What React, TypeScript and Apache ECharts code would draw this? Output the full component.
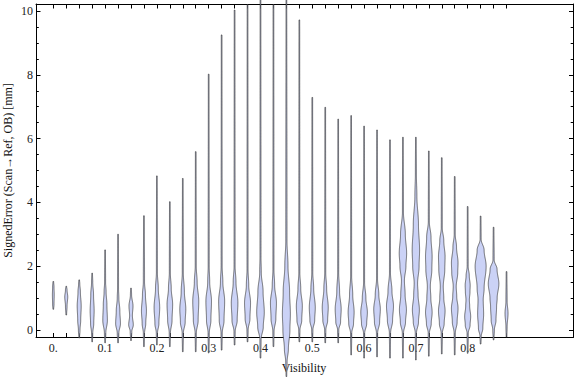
import React, { useEffect, useRef } from 'react';
import * as echarts from 'echarts';

// Violin positions (Visibility)
const positions = [
  0, 0.025, 0.05, 0.075, 0.1, 0.125, 0.15, 0.175, 0.2, 0.225, 0.25, 0.275,
  0.3, 0.325, 0.35, 0.375, 0.4, 0.425, 0.45, 0.475, 0.5, 0.525, 0.55, 0.575,
  0.6, 0.625, 0.65, 0.675, 0.7, 0.725, 0.75, 0.775, 0.8, 0.825, 0.85, 0.875,
];

// Tail ends (min / max of the signed error per bin)
const minValues = [
  0.65, 0.47, -0.25, -0.37, -0.4, -0.4, -0.33, -0.52, -0.47, -0.52, -0.68, -0.68,
  -0.72, -0.63, -0.47, -0.37, -0.88, -0.52, -1.46, -0.37, -0.37, -0.4, -0.4, -0.78,
  -0.88, -0.84, -0.88, -0.88, -0.94, -0.82, -0.75, -0.78, -0.73, -0.44, -0.31, -0.22,
];
const maxValues = [
  1.52, 1.37, 1.57, 1.78, 2.51, 3.0, 1.31, 3.58, 4.83, 4.02, 4.75, 5.59,
  8.02, 9.25, 10.03, 10.2, 11, 10.2, 11, 9.72, 7.29, 6.98, 6.61, 6.72,
  6.39, 6.27, 5.96, 6.04, 6.04, 5.61, 5.4, 4.81, 3.87, 3.57, 3.22, 1.83,
];

// Density profile knots per violin: [value, density]
const densityProfiles: number[][][] = [
  [[0.8, 0.7], [1.1, 0.9], [1.35, 0.7]],
  [[0.75, 0.8], [1.04, 1.5], [1.25, 0.8]],
  [[0.0, 0.8], [0.3, 1.5], [0.75, 2.0], [1.2, 1.2], [1.45, 0.6]],
  [[-0.1, 0.6], [0.2, 1.6], [0.6, 2.0], [1.1, 1.4], [1.5, 0.6]],
  [[-0.1, 0.7], [0.3, 2.3], [0.8, 1.8], [1.2, 1.0], [1.5, 0.5]],
  [[-0.1, 0.8], [0.2, 2.4], [0.6, 1.8], [1.0, 0.8], [1.3, 0.5]],
  [[-0.05, 0.8], [0.16, 2.3], [0.45, 1.4], [0.75, 2.0], [1.1, 0.6]],
  [[-0.1, 0.6], [0.2, 1.8], [0.6, 2.5], [1.1, 1.5], [1.5, 0.6]],
  [[-0.1, 0.6], [0.2, 2.0], [0.7, 2.8], [1.3, 1.4], [1.8, 0.5]],
  [[-0.1, 0.6], [0.3, 2.2], [0.8, 2.8], [1.3, 1.4], [1.8, 0.5]],
  [[-0.1, 0.6], [0.25, 2.4], [0.65, 3.0], [1.2, 1.6], [1.8, 0.5]],
  [[-0.1, 0.6], [0.3, 2.4], [0.9, 3.0], [1.5, 1.4], [2.0, 0.5]],
  [[-0.1, 0.6], [0.3, 2.2], [0.9, 2.8], [1.5, 1.0], [2.0, 0.5]],
  [[-0.1, 0.6], [0.3, 2.4], [0.9, 3.0], [1.5, 1.2], [2.0, 0.5]],
  [[-0.05, 0.6], [0.3, 2.6], [0.85, 3.3], [1.5, 1.4], [2.0, 0.5]],
  [[0.0, 0.6], [0.35, 2.4], [0.85, 3.0], [1.4, 1.2], [1.9, 0.5]],
  [[-0.3, 0.6], [0.1, 2.8], [0.55, 3.8], [1.2, 2.6], [1.8, 0.8], [2.3, 0.5]],
  [[-0.05, 0.6], [0.35, 2.4], [0.85, 3.0], [1.4, 1.2], [1.9, 0.5]],
  [[-1.0, 0.7], [-0.6, 2.0], [0.0, 3.5], [0.5, 4.0], [1.2, 3.2], [2.0, 1.6], [2.8, 0.6]],
  [[0.0, 0.6], [0.3, 2.4], [0.75, 3.0], [1.3, 1.4], [1.8, 0.5]],
  [[0.0, 0.6], [0.3, 2.4], [0.7, 3.0], [1.3, 1.4], [1.8, 0.5]],
  [[0.0, 0.6], [0.3, 2.4], [0.7, 3.0], [1.3, 1.4], [1.8, 0.5]],
  [[0.0, 0.6], [0.25, 2.4], [0.65, 3.0], [1.2, 1.4], [1.8, 0.5]],
  [[-0.1, 0.6], [0.2, 2.4], [0.55, 3.0], [1.1, 1.6], [1.7, 0.5]],
  [[-0.1, 0.6], [0.2, 2.6], [0.55, 3.3], [1.0, 1.8], [1.5, 0.5]],
  [[-0.1, 0.6], [0.25, 2.6], [0.65, 3.3], [1.1, 1.8], [1.6, 0.5]],
  [[-0.1, 0.6], [0.3, 2.6], [0.75, 3.5], [1.2, 2.0], [1.8, 0.5]],
  [[-0.1, 0.6], [0.25, 2.6], [0.63, 3.5], [1.1, 2.2], [1.55, 1.5], [2.0, 3.0], [2.4, 3.7], [3.0, 2.4], [3.7, 0.5]],
  [[-0.1, 0.6], [0.25, 2.6], [0.63, 3.5], [1.1, 2.2], [1.46, 1.7], [2.0, 3.2], [2.5, 3.7], [3.3, 2.6], [4.2, 1.0], [4.9, 0.5]],
  [[-0.1, 0.6], [0.2, 2.4], [0.55, 3.3], [1.0, 2.0], [1.36, 1.5], [1.9, 3.0], [2.3, 3.3], [2.9, 2.2], [3.4, 0.5]],
  [[-0.1, 0.6], [0.2, 2.4], [0.6, 3.3], [1.0, 2.0], [1.36, 1.5], [1.9, 3.0], [2.3, 3.3], [2.8, 2.0], [3.2, 0.5]],
  [[-0.1, 0.6], [0.25, 2.4], [0.68, 3.3], [1.05, 2.0], [1.36, 1.5], [1.8, 3.0], [2.1, 3.3], [2.6, 1.8], [3.0, 0.5]],
  [[-0.1, 0.6], [0.15, 2.4], [0.42, 3.0], [0.75, 2.0], [0.94, 1.7], [1.2, 2.3], [1.4, 2.5], [1.7, 1.6], [2.0, 0.5]],
  [[-0.2, 0.6], [0.05, 2.2], [0.5, 3.0], [0.95, 2.6], [1.3, 3.5], [2.0, 5.5], [2.5, 3.5], [2.85, 0.5]],
  [[0.0, 0.8], [0.3, 2.4], [0.73, 3.0], [1.0, 3.6], [1.45, 5.3], [1.9, 3.5], [2.2, 0.6]],
  [[0.1, 0.6], [0.52, 1.5], [0.9, 0.6]],
];

const xLabelValues = [0, 0.1, 0.2, 0.3, 0.4, 0.5, 0.6, 0.7, 0.8];
const yLabelValues = [0, 2, 4, 6, 8, 10];
const yMinorValues = [
  0, 0.5, 1, 1.5, 2, 2.5, 3, 3.5, 4, 4.5, 5, 5.5, 6, 6.5, 7, 7.5, 8, 8.5, 9, 9.5, 10,
];

const X_MIN = -0.0334;
const X_MAX = 1.0043;
const Y_MIN = -0.22;
const Y_MAX = 10.22;
const TAIL = 0.35;
const WIDTH_SCALE = 1;
const FONT = '"Liberation Serif", "Times New Roman", serif';

function widthAt(knots: number[][], v: number): number {
  if (v <= knots[0][0]) return knots[0][1];
  for (let k = 0; k < knots.length - 1; k++) {
    const [v0, w0] = knots[k];
    const [v1, w1] = knots[k + 1];
    if (v >= v0 && v <= v1) {
      const t = v1 === v0 ? 0 : (v - v0) / (v1 - v0);
      const s = (1 - Math.cos(Math.PI * t)) / 2;
      return w0 + (w1 - w0) * s;
    }
  }
  return knots[knots.length - 1][1];
}

export default function App() {
  const ref = useRef<HTMLDivElement>(null);

  useEffect(() => {
    if (!ref.current) return;
    const chart = echarts.init(ref.current, undefined, { renderer: 'svg' });

    const axisLineStyle = { color: '#000', width: 1 };
    const labelStyle = { fontFamily: FONT, fontSize: 12, color: '#222' };

    const option: any = {
      animation: false,
      grid: { left: 36, right: 2.5, top: 4, bottom: 40, containLabel: false },
      xAxis: [
        {
          type: 'value',
          position: 'bottom',
          min: X_MIN,
          max: X_MAX,
          axisLine: { show: true, onZero: false, lineStyle: axisLineStyle },
          axisTick: { show: true, inside: true, length: 4, customValues: positions, lineStyle: axisLineStyle },
          axisLabel: {
            show: true,
            customValues: xLabelValues,
            margin: 5,
            formatter: (v: number) => (Math.abs(v) < 1e-9 ? '0.' : v.toFixed(1)),
            ...labelStyle,
          },
          splitLine: { show: false },
        },
        {
          type: 'value',
          position: 'top',
          min: X_MIN,
          max: X_MAX,
          axisLine: { show: true, onZero: false, lineStyle: axisLineStyle },
          axisTick: { show: true, inside: true, length: 4.5, customValues: positions, lineStyle: axisLineStyle },
          axisLabel: { show: false },
          splitLine: { show: false },
        },
      ],
      yAxis: [
        {
          type: 'value',
          position: 'left',
          min: Y_MIN,
          max: Y_MAX,
          axisLine: { show: true, onZero: false, lineStyle: axisLineStyle },
          axisTick: { show: true, inside: true, length: 4.5, customValues: yLabelValues, lineStyle: axisLineStyle },
          axisLabel: { show: true, customValues: yLabelValues, margin: 3, ...labelStyle },
          splitLine: { show: false },
        },
        {
          type: 'value',
          position: 'right',
          min: Y_MIN,
          max: Y_MAX,
          axisLine: { show: true, onZero: false, lineStyle: axisLineStyle },
          axisTick: { show: true, inside: true, length: 4.5, customValues: yLabelValues, lineStyle: axisLineStyle },
          axisLabel: { show: false },
          splitLine: { show: false },
        },
        {
          type: 'value',
          position: 'left',
          min: Y_MIN,
          max: Y_MAX,
          axisLine: { show: false, onZero: false },
          axisTick: { show: true, inside: true, length: 2.8, customValues: yMinorValues, lineStyle: axisLineStyle },
          axisLabel: { show: false },
          splitLine: { show: false },
        },
        {
          type: 'value',
          position: 'right',
          min: Y_MIN,
          max: Y_MAX,
          axisLine: { show: false, onZero: false },
          axisTick: { show: true, inside: true, length: 2.8, customValues: yMinorValues, lineStyle: axisLineStyle },
          axisLabel: { show: false },
          splitLine: { show: false },
        },
      ],
      graphic: [
        {
          type: 'text',
          x: 7.5,
          y: 170.5,
          rotation: Math.PI / 2,
          style: {
            text: 'SignedError (Scan\u2192Ref, OB) [mm]',
            font: `12px ${FONT}`,
            fill: '#111',
            textAlign: 'center',
            textVerticalAlign: 'middle',
          },
        },
        {
          type: 'text',
          x: 304,
          y: 368,
          style: {
            text: 'Visibility',
            font: `12px ${FONT}`,
            fill: '#111',
            textAlign: 'center',
            textVerticalAlign: 'middle',
          },
        },
      ],
      series: [
        {
          type: 'custom',
          clip: false,
          xAxisIndex: 0,
          yAxisIndex: 0,
          encode: { x: 0, y: [1, 2] },
          data: positions.map((p, i) => [p, minValues[i], maxValues[i], i]),
          renderItem: (params: any, api: any) => {
            const x = api.value(0);
            const lo = api.value(1);
            const hi = api.value(2);
            const idx = api.value(3);
            const knots = [[lo, TAIL], ...densityProfiles[idx], [hi, TAIL]];
            const p0 = api.coord([x, 0]);
            const p1 = api.coord([x, 1]);
            const pxPerUnit = Math.abs(p0[1] - p1[1]);
            const step = 0.6 / pxPerUnit;
            const right: number[][] = [];
            const left: number[][] = [];
            for (let v = lo; v <= hi + 1e-9; v += step) {
              const vv = Math.min(v, hi);
              const c = api.coord([x, vv]);
              const w = widthAt(knots, vv) * WIDTH_SCALE;
              right.push([c[0] + w, c[1]]);
              left.push([c[0] - w, c[1]]);
            }
            const ce = api.coord([x, hi]);
            const we = widthAt(knots, hi) * WIDTH_SCALE;
            right.push([ce[0] + we, ce[1]]);
            left.push([ce[0] - we, ce[1]]);
            const points = right.concat(left.reverse());
            return {
              type: 'polygon',
              shape: { points },
              style: {
                fill: '#CBD2F6',
                stroke: 'rgba(50,50,50,0.85)',
                lineWidth: 0.8,
              },
            };
          },
        },
      ],
    };

    chart.setOption(option);
    return () => {
      chart.dispose();
    };
  }, []);

  return (
    <div
      ref={ref}
      style={{ position: 'fixed', left: 0, top: 0, width: 576, height: 377, background: '#fff' }}
    />
  );
}
